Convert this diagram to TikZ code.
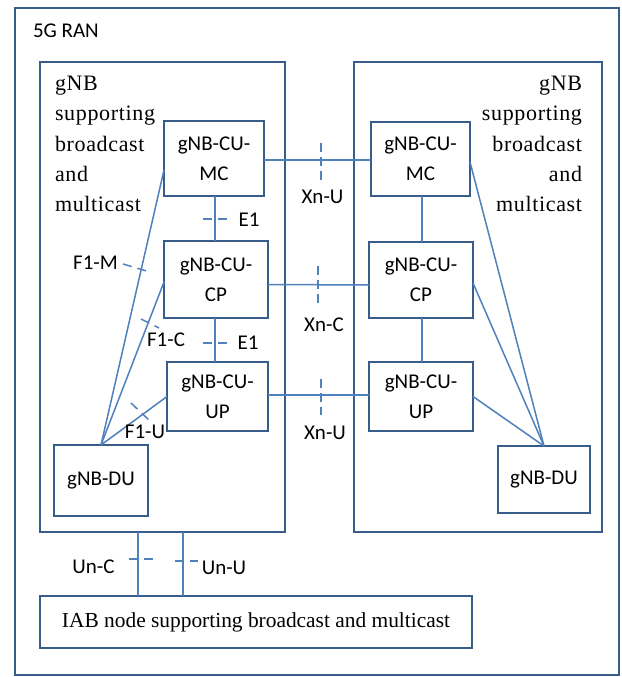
\documentclass[tikz,border=0pt]{standalone}
\usepackage{fontspec}
\setmainfont{Liberation Serif}
\newfontfamily\calfont{Carlito}
\newfontfamily\widefont[LetterSpace=3]{Liberation Serif}
\definecolor{boxblue}{RGB}{56,93,138}
\definecolor{lineblue}{RGB}{79,129,189}
\begin{document}
\begin{tikzpicture}[x=1pt, y=-1pt, inner sep=0, outer sep=0,
  frame/.style={rectangle, draw=boxblue, line width=1.8pt},
  unit/.style={frame, align=center, font=\calfont\fontsize{21}{30}\selectfont},
  link/.style={draw=lineblue, line width=1.5pt},
  tick/.style={draw=lineblue, line width=1.5pt, dash pattern=on 9pt off 6pt},
  iface/.style={font=\calfont\fontsize{21}{25}\selectfont}]
  \fill[white] (0,0) rectangle (621,677);
  \useasboundingbox (0,0) rectangle (621,677);

  % 5G RAN frame
  \node[frame, minimum width=604pt, minimum height=667pt] (ran) at (317,341.5) {};
  \node[iface, anchor=west] (ranlabel) at (33,31) {5G RAN};

  % gNB boxes
  \node[frame, minimum width=245pt, minimum height=470pt] (lgnb) at (162.5,297) {};
  \node[frame, minimum width=248pt, minimum height=470pt] (rgnb) at (478,297) {};
  \node[anchor=north west, align=left, font=\widefont\fontsize{22}{30.3}\selectfont] (lgnblabel) at (55,76)
    {gNB\\supporting\\broadcast\\and\\multicast};
  \node[anchor=north east, align=right, font=\widefont\fontsize{22}{30.3}\selectfont] (rgnblabel) at (582,76)
    {gNB\\supporting\\broadcast\\and\\multicast};

  % left gNB
  \node[unit, minimum width=100pt, minimum height=75pt] (lmc) at (214,158.5) {gNB-CU-\\MC};
  \node[unit, minimum width=104pt, minimum height=77pt] (lcp) at (216,279.5) {gNB-CU-\\CP};
  \node[unit, minimum width=101pt, minimum height=69pt] (lup) at (217.5,396.5) {gNB-CU-\\UP};
  \node[unit, minimum width=94pt, minimum height=71pt] (ldu) at (101,480.5) {gNB-DU};

  % right gNB
  \node[unit, minimum width=99pt, minimum height=74pt] (rmc) at (420.5,159) {gNB-CU-\\MC};
  \node[unit, minimum width=104pt, minimum height=76pt] (rcp) at (421,280) {gNB-CU-\\CP};
  \node[unit, minimum width=104pt, minimum height=69pt] (rup) at (421,396.5) {gNB-CU-\\UP};
  \node[unit, minimum width=92pt, minimum height=67pt] (rdu) at (544,479.5) {gNB-DU};

  % IAB node
  \node[frame, minimum width=432pt, minimum height=52pt, font=\fontsize{21.4}{26}\selectfont] (iab) at (256,622)
    {IAB node supporting broadcast and multicast};

  % E1
  \draw[link] (lmc.south -| 215,0) -- (lcp.north -| 215,0);
  \draw[link] (lcp.south -| 215,0) -- (lup.north -| 215,0);
  \draw[link] (rmc.south -| 422,0) -- (rcp.north -| 422,0);
  \draw[link] (rcp.south -| 422,0) -- (rup.north -| 422,0);
  \draw[tick] (203,219) -- (231,219);
  \draw[tick] (203,343) -- (231,343);
  \node[iface] (e1a) at (249,220) {E1};
  \node[iface] (e1b) at (248,343) {E1};

  % Xn
  \draw[link] ([yshift=-1.5pt]lmc.east) -- ([yshift=-1pt]rmc.west);
  \draw[link] ([yshift=-5pt]lcp.east) -- ([yshift=-5pt]rcp.west);
  \draw[link] ([yshift=1.5pt]lup.east) -- ([yshift=1.5pt]rup.west);
  \draw[tick, dash pattern=on 9pt off 5pt] (321,143) -- (321,180);
  \draw[tick, dash pattern=on 9pt off 5pt] (318,266) -- (318,303);
  \draw[tick, dash pattern=on 9pt off 5pt] (321,379) -- (321,415);
  \node[iface] (xnu1) at (322.5,197) {Xn-U};
  \node[iface] (xnc) at (324,325) {Xn-C};
  \node[iface] (xnu2) at (325,433) {Xn-U};

  % F1
  \draw[link] (ldu.north) -- ([yshift=-11.5pt]lmc.west);
  \draw[link] (ldu.north) -- ([yshift=-2.5pt]lcp.west);
  \draw[link] (ldu.north) -- (lup.west);
  \draw[link] (rdu.north) -- ([yshift=-3pt]rmc.east);
  \draw[link] (rdu.north) -- ([yshift=-3pt]rcp.east);
  \draw[link] (rdu.north) -- (rup.east);
  \draw[tick] (123,264) -- (150,272);
  \draw[tick] (141,319) -- (159,328);
  \draw[tick] (131,403) -- (150,421);
  \node[iface] (f1m) at (95.5,263) {F1-M};
  \node[iface] (f1c) at (166,340) {F1-C};
  \node[iface] (f1u) at (145,432) {F1-U};

  % Un
  \draw[link] (lgnb.south -| 138,0) -- (iab.north -| 138,0);
  \draw[link] (lgnb.south -| 183,0) -- (iab.north -| 183,0);
  \draw[tick] (129,559) -- (153,559);
  \draw[tick] (175,561) -- (198,561);
  \node[iface] (unc) at (93.5,567) {Un-C};
  \node[iface] (unu) at (224,568) {Un-U};
\end{tikzpicture}
\end{document}
